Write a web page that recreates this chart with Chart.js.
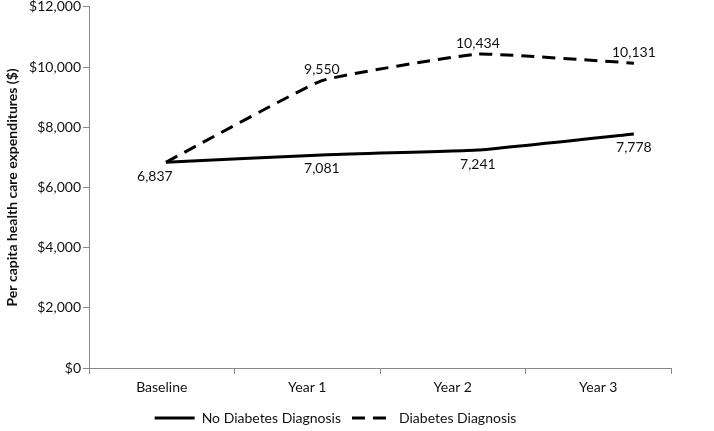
<!DOCTYPE html>
<html>
<head>
<meta charset="utf-8">
<script src="https://cdn.jsdelivr.net/npm/chart.js@4.4.1/dist/chart.umd.min.js"></script>
<style>
  html, body { margin: 0; padding: 0; background: #fff; }
  #wrap { width: 714px; height: 431px; }
</style>
</head>
<body>
<div id="wrap"><canvas id="c" width="714" height="431"></canvas></div>
<script>
const categories = ['Baseline', 'Year 1', 'Year 2', 'Year 3'];
const noDiabetes = [6837, 7081, 7241, 7778];
const diabetes = [6837, 9550, 10434, 10131];
const yTicks = [0, 2000, 4000, 6000, 8000, 10000, 12000];

const FONT = 'Lato, "Open Sans", sans-serif';
const fmt = v => v.toLocaleString('en-US');

const labelPlugin = {
  id: 'pointLabels',
  afterDatasetsDraw(chart) {
    const ctx = chart.ctx;
    ctx.save();
    ctx.font = '14px ' + FONT;
    ctx.fillStyle = '#111';
    ctx.textAlign = 'center';
    chart.data.datasets.forEach((ds, di) => {
      const meta = chart.getDatasetMeta(di);
      meta.data.forEach((pt, i) => {
        if (di === 1 && i === 0) return;
        const v = ds.data[i].y;
        let x = pt.x, y;
        if (di === 0) { y = pt.y + 14; if (i === 0) x -= 11; }
        else { y = pt.y - 11; }
        ctx.textBaseline = 'middle';
        ctx.fillText(fmt(v), x, y);
      });
    });
    ctx.restore();
  }
};

new Chart(document.getElementById('c'), {
  type: 'line',
  data: {
    labels: categories,
    datasets: [
      {
        label: 'No Diabetes Diagnosis',
        data: noDiabetes.map((v, i) => ({ x: i, y: v })),
        xAxisID: 'xd',
        borderColor: '#000',
        backgroundColor: '#000',
        borderWidth: 3,
        pointRadius: 0,
        tension: 0.1,
        fill: false
      },
      {
        label: 'Diabetes Diagnosis',
        data: diabetes.map((v, i) => ({ x: i, y: v })),
        xAxisID: 'xd',
        borderColor: '#000',
        backgroundColor: '#000',
        borderWidth: 3,
        borderDash: [13, 8],
        pointRadius: 0,
        tension: 0.1,
        fill: false
      }
    ]
  },
  options: {
    responsive: false,
    animation: false,
    layout: { padding: { left: 0, right: 43, top: 0, bottom: -4 } },
    plugins: {
      legend: {
        position: 'bottom',
        labels: {
          usePointStyle: true,
          pointStyle: 'line',
          pointStyleWidth: 40,
          font: { family: FONT, size: 14 },
          color: '#111',
          padding: 11,
          generateLabels(chart) {
            return chart.data.datasets.map((ds, i) => ({
              text: ds.label,
              fillStyle: '#000',
              strokeStyle: '#000',
              lineWidth: 3,
              lineDash: ds.borderDash || [],
              pointStyle: 'line',
              datasetIndex: i,
              hidden: false,
              fontColor: '#111'
            }));
          }
        }
      },
      tooltip: { enabled: false }
    },
    scales: {
      x: {
        type: 'category',
        labels: categories,
        offset: true,
        grid: { display: true, drawOnChartArea: false, drawTicks: true, tickLength: 6, color: '#888', offset: true },
        border: { display: true, color: '#888', width: 1 },
        ticks: { font: { family: FONT, size: 14, lineHeight: 1 }, color: '#111', padding: 6 }
      },
      xd: {
        type: 'linear',
        display: false,
        min: -0.493,
        max: 3.238
      },
      y: {
        min: 0,
        max: 12000,
        afterBuildTicks(scale) { scale.ticks = yTicks.map(v => ({ value: v })); },
        afterFit(scale) { scale.width = 89; },
        grid: { display: true, drawOnChartArea: false, drawTicks: true, tickLength: 6, color: '#888' },
        border: { display: true, color: '#888', width: 1 },
        ticks: {
          font: { family: FONT, size: 14, lineHeight: 0.7 },
          color: '#111',
          padding: 2,
          callback: v => '$' + fmt(v)
        },
        title: {
          display: true,
          text: 'Per capita health care expenditures ($)',
          font: { family: FONT, size: 14, weight: 'bold' },
          color: '#111',
          padding: { top: 4, bottom: 2 }
        }
      }
    }
  },
  plugins: [labelPlugin]
});
</script>
</body>
</html>
